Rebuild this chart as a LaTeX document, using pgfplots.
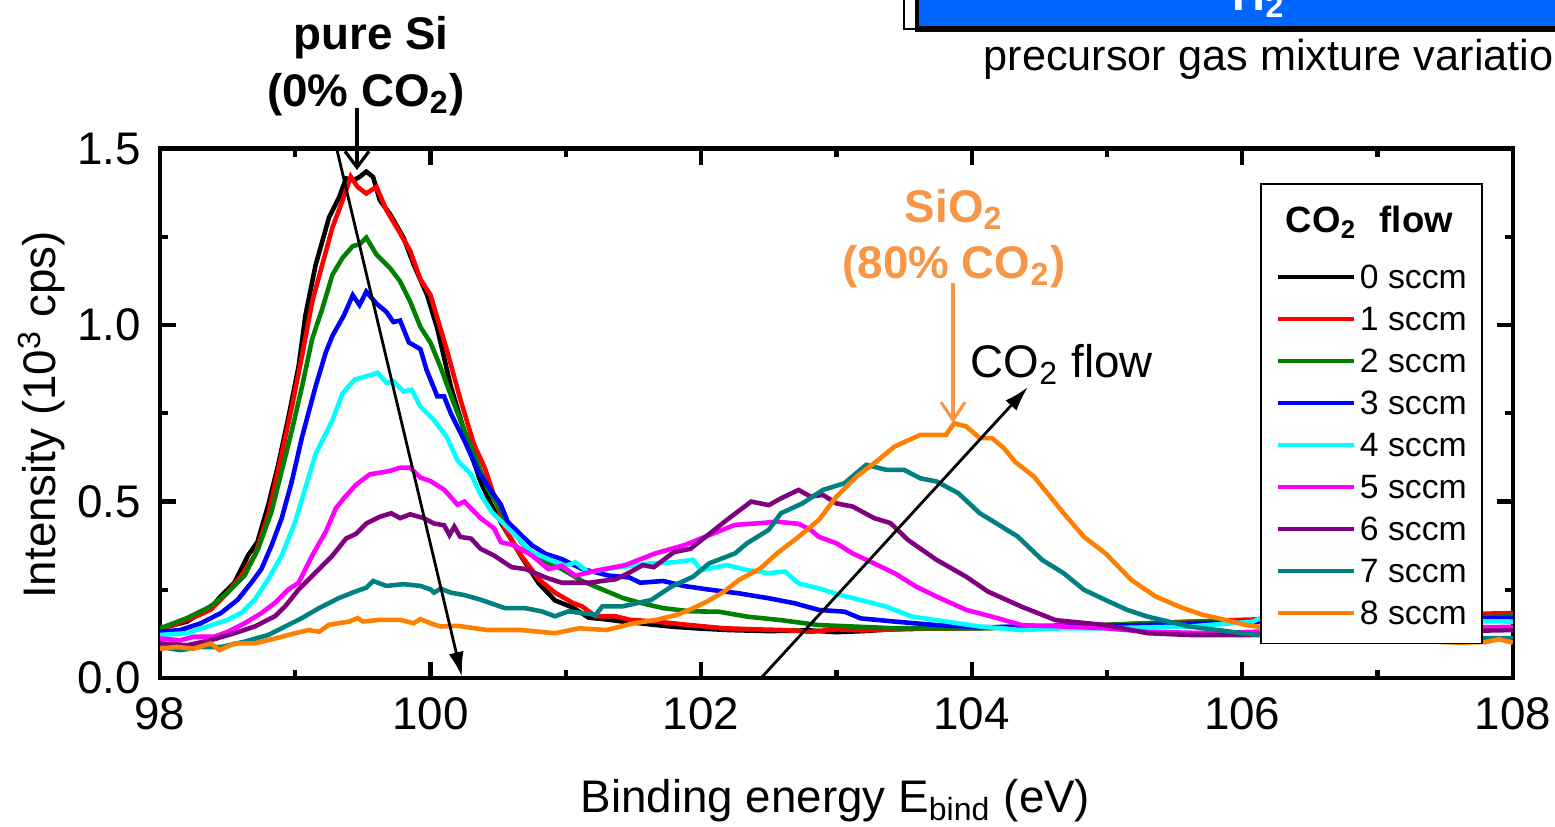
\documentclass[border=0pt]{standalone}
\usepackage{fontspec}
\setmainfont{Liberation Sans}
\usepackage{pgfplots}
\pgfplotsset{compat=1.18}
\usetikzlibrary{arrows.meta}
\definecolor{cgreen}{RGB}{0,128,0}
\definecolor{cblue}{RGB}{0,0,255}
\definecolor{ccyan}{RGB}{0,255,255}
\definecolor{cmag}{RGB}{255,0,255}
\definecolor{cpurple}{RGB}{128,0,128}
\definecolor{cteal}{RGB}{0,128,128}
\definecolor{corange}{RGB}{255,128,0}
\definecolor{annot}{RGB}{247,150,70}
\definecolor{barblue}{RGB}{0,102,255}
\newcommand{\ls}{\rule[-0.07cm]{0pt}{0.37cm}}
\newcommand{\bigf}{\fontsize{13}{15}\selectfont}
\begin{document}
\begin{tikzpicture}
\begin{axis}[
  name=ax, at={(0,0)}, anchor=south west,
  scale only axis, width=13.52cm, height=5.29cm,
  xmin=98, xmax=108, ymin=0, ymax=1.5,
  xtick={98,100,...,108}, ytick={0,0.5,1,1.5},
  minor x tick num=1, minor y tick num=1,
  tick align=inside,
  major tick length=0.16cm, minor tick length=0.08cm,
  every tick/.style={black, line width=1.2pt},
  axis line style={line width=1.3pt},
  /pgf/number format/assume math mode=true,
  tick label style={font=\bigf},
  xticklabel style={yshift=-0.07cm},
  yticklabel style={xshift=-0.07cm,/pgf/number format/.cd,fixed,fixed zerofill,precision=1},
  label style={font=\bigf},
  xlabel={Binding energy E\textsubscript{bind} (eV)},
  ylabel={Intensity (10\textsuperscript{3} cps)},
  xlabel style={at={(axis description cs:0.4993,-0.2533)}, anchor=base},
  ylabel style={at={(axis description cs:-0.0873,0.497)}, anchor=center},
  every axis plot/.append style={line width=1.3pt},
  legend image code/.code={\draw[#1,line width=1.2pt] (0cm,0cm) -- (0.76cm,0cm);},
  legend cell align=left,
  legend style={at={(rel axis cs:0.9778,0.9357)}, anchor=north east,
    draw=black, line width=0.5pt, fill=white,
    font=\fontsize{9.6}{10.5}\selectfont,
    inner xsep=0.15cm, inner ysep=0.12cm,
    row sep=0.05cm, column sep=0.04cm,
    nodes={inner sep=0pt, text depth=}},
]
\addlegendimage{empty legend}
\addlegendentry{\hspace*{-0.74cm}\fontsize{10.4}{12}\selectfont\bfseries\rule[-0.205cm]{0pt}{0.575cm}CO\textsubscript{2}\hspace{0.35em} flow}

\addplot[black] coordinates {(98.0,0.141)(98.1,0.15)(98.2,0.16)(98.3,0.184)(98.4,0.21)(98.45,0.232)(98.55,0.27)(98.65,0.347)(98.72,0.385)(98.8,0.49)(98.875,0.606)(98.95,0.74)(99.025,0.884)(99.075,1.028)(99.15,1.17)(99.25,1.306)(99.325,1.363)(99.375,1.416)(99.43,1.41)(99.475,1.42)(99.525,1.435)(99.575,1.42)(99.625,1.354)(99.7,1.315)(99.8,1.248)(99.875,1.172)(99.975,1.085)(100.05,0.99)(100.15,0.826)(100.3,0.635)(100.37,0.556)(100.45,0.49)(100.52,0.441)(100.6,0.39)(100.67,0.345)(100.8,0.268)(100.92,0.22)(101.05,0.2)(101.17,0.171)(101.3,0.166)(101.42,0.16)(101.55,0.155)(101.67,0.15)(101.8,0.145)(102.0,0.14)(102.2,0.136)(102.5,0.133)(102.8,0.135)(103.0,0.13)(103.2,0.133)(103.4,0.138)(103.6,0.14)(103.8,0.14)(104.0,0.142)(104.3,0.145)(104.6,0.148)(105.0,0.15)(105.5,0.158)(106.0,0.162)(106.5,0.165)(107.0,0.168)(107.5,0.17)(108.0,0.172)};
\addlegendentry{\ls 0 sccm}

\addplot[red] coordinates {(98.0,0.136)(98.1,0.15)(98.2,0.165)(98.3,0.18)(98.375,0.194)(98.5,0.242)(98.6,0.29)(98.7,0.347)(98.8,0.462)(98.9,0.635)(98.975,0.769)(99.05,0.913)(99.125,1.066)(99.2,1.172)(99.275,1.277)(99.35,1.354)(99.41,1.421)(99.46,1.392)(99.525,1.373)(99.6,1.392)(99.675,1.325)(99.75,1.277)(99.85,1.21)(99.925,1.13)(100.0,1.085)(100.12,0.93)(100.22,0.79)(100.32,0.663)(100.4,0.596)(100.45,0.539)(100.55,0.424)(100.67,0.347)(100.8,0.28)(100.92,0.242)(101.05,0.213)(101.12,0.203)(101.22,0.175)(101.37,0.175)(101.47,0.165)(101.67,0.16)(101.92,0.15)(102.17,0.141)(102.4,0.138)(102.6,0.136)(102.81,0.131)(103.0,0.138)(103.2,0.135)(103.43,0.138)(103.7,0.14)(104.06,0.141)(104.5,0.145)(104.99,0.15)(105.5,0.158)(106.0,0.165)(106.5,0.17)(107.0,0.175)(107.5,0.18)(108.0,0.184)};
\addlegendentry{\ls 1 sccm}

\addplot[cgreen] coordinates {(98.0,0.141)(98.1,0.155)(98.2,0.17)(98.375,0.203)(98.5,0.242)(98.625,0.29)(98.725,0.366)(98.825,0.472)(98.9,0.587)(98.975,0.702)(99.05,0.826)(99.125,0.961)(99.2,1.047)(99.275,1.143)(99.35,1.191)(99.425,1.224)(99.475,1.229)(99.525,1.248)(99.6,1.2)(99.7,1.162)(99.775,1.124)(99.85,1.066)(99.925,0.995)(100.0,0.95)(100.075,0.88)(100.17,0.78)(100.3,0.654)(100.42,0.539)(100.55,0.453)(100.67,0.385)(100.8,0.337)(100.97,0.309)(101.12,0.275)(101.27,0.251)(101.42,0.227)(101.55,0.213)(101.72,0.198)(101.92,0.189)(102.13,0.188)(102.34,0.174)(102.59,0.164)(102.87,0.15)(103.12,0.146)(103.43,0.141)(104.06,0.141)(104.68,0.146)(105.3,0.155)(106.08,0.16)(106.8,0.165)(107.5,0.17)(108.0,0.175)};
\addlegendentry{\ls 2 sccm}

\addplot[cblue] coordinates {(98.0,0.131)(98.15,0.136)(98.3,0.155)(98.45,0.184)(98.575,0.222)(98.675,0.27)(98.75,0.309)(98.825,0.376)(98.9,0.453)(98.975,0.558)(99.05,0.683)(99.15,0.826)(99.225,0.922)(99.275,0.97)(99.36,1.028)(99.425,1.085)(99.475,1.057)(99.525,1.095)(99.6,1.061)(99.675,1.037)(99.725,1.009)(99.775,1.013)(99.84,0.951)(99.925,0.932)(99.97,0.874)(100.05,0.798)(100.1,0.798)(100.15,0.75)(100.25,0.673)(100.35,0.587)(100.45,0.529)(100.52,0.491)(100.57,0.443)(100.67,0.405)(100.75,0.376)(100.85,0.352)(100.97,0.337)(101.12,0.309)(101.32,0.29)(101.47,0.285)(101.55,0.27)(101.72,0.275)(101.87,0.261)(102.05,0.251)(102.28,0.24)(102.5,0.226)(102.69,0.212)(102.87,0.193)(103.06,0.188)(103.18,0.169)(103.43,0.16)(103.74,0.15)(104.06,0.144)(104.68,0.146)(105.3,0.15)(106.08,0.16)(106.8,0.165)(107.5,0.168)(108.0,0.17)};
\addlegendentry{\ls 3 sccm}

\addplot[ccyan] coordinates {(98.0,0.122)(98.2,0.127)(98.35,0.146)(98.5,0.165)(98.6,0.184)(98.7,0.222)(98.8,0.28)(98.9,0.347)(99.0,0.443)(99.075,0.539)(99.15,0.635)(99.225,0.692)(99.275,0.731)(99.35,0.807)(99.44,0.846)(99.525,0.855)(99.61,0.865)(99.675,0.836)(99.725,0.841)(99.8,0.812)(99.86,0.817)(99.925,0.769)(100.025,0.731)(100.12,0.683)(100.2,0.616)(100.3,0.577)(100.37,0.52)(100.45,0.472)(100.55,0.433)(100.65,0.395)(100.75,0.357)(100.87,0.337)(101.0,0.318)(101.07,0.328)(101.17,0.299)(101.3,0.309)(101.44,0.316)(101.63,0.325)(101.8,0.328)(101.94,0.335)(102.0,0.306)(102.19,0.32)(102.34,0.306)(102.5,0.297)(102.62,0.302)(102.72,0.268)(102.87,0.254)(103.03,0.235)(103.18,0.221)(103.37,0.202)(103.56,0.174)(103.74,0.164)(104.06,0.146)(104.37,0.136)(104.68,0.141)(104.99,0.141)(105.61,0.146)(106.08,0.16)(106.25,0.19)(106.4,0.16)(107.0,0.16)(107.5,0.162)(108.0,0.16)};
\addlegendentry{\ls 4 sccm}

\addplot[cmag] coordinates {(98.0,0.112)(98.15,0.107)(98.25,0.117)(98.4,0.117)(98.5,0.131)(98.625,0.155)(98.75,0.184)(98.85,0.213)(98.95,0.251)(99.025,0.27)(99.125,0.347)(99.225,0.414)(99.3,0.481)(99.36,0.51)(99.45,0.548)(99.55,0.577)(99.7,0.587)(99.775,0.596)(99.85,0.596)(99.925,0.568)(100.0,0.558)(100.1,0.534)(100.2,0.491)(100.25,0.5)(100.37,0.453)(100.47,0.424)(100.52,0.385)(100.62,0.376)(100.75,0.347)(100.87,0.309)(100.97,0.318)(101.07,0.29)(101.22,0.304)(101.44,0.32)(101.66,0.353)(101.88,0.377)(102.06,0.405)(102.25,0.434)(102.44,0.439)(102.56,0.443)(102.72,0.437)(102.81,0.42)(102.87,0.4)(103.0,0.382)(103.12,0.353)(103.25,0.33)(103.43,0.297)(103.59,0.259)(103.74,0.231)(103.96,0.193)(104.15,0.174)(104.37,0.15)(104.68,0.146)(104.99,0.141)(105.3,0.131)(105.77,0.127)(106.08,0.131)(107.0,0.14)(107.6,0.143)(108.0,0.145)};
\addlegendentry{\ls 5 sccm}

\addplot[cpurple] coordinates {(98.0,0.098)(98.2,0.093)(98.375,0.107)(98.55,0.127)(98.7,0.146)(98.85,0.175)(98.925,0.203)(99.025,0.251)(99.15,0.299)(99.275,0.347)(99.375,0.395)(99.45,0.409)(99.525,0.438)(99.625,0.457)(99.71,0.467)(99.775,0.453)(99.85,0.464)(99.95,0.453)(100.025,0.438)(100.1,0.433)(100.14,0.405)(100.175,0.429)(100.22,0.4)(100.3,0.395)(100.37,0.366)(100.47,0.347)(100.6,0.314)(100.7,0.309)(100.85,0.285)(100.97,0.27)(101.17,0.27)(101.37,0.28)(101.47,0.299)(101.57,0.32)(101.65,0.314)(101.8,0.357)(101.92,0.366)(102.05,0.405)(102.19,0.448)(102.37,0.5)(102.5,0.49)(102.59,0.509)(102.72,0.533)(102.81,0.514)(102.9,0.519)(103.0,0.495)(103.12,0.486)(103.28,0.453)(103.4,0.439)(103.53,0.391)(103.74,0.335)(103.96,0.287)(104.12,0.245)(104.37,0.202)(104.62,0.164)(104.99,0.15)(105.3,0.127)(105.61,0.122)(106.08,0.122)(107.0,0.13)(107.6,0.133)(108.0,0.136)};
\addlegendentry{\ls 6 sccm}

\addplot[cteal] coordinates {(98.0,0.088)(98.15,0.079)(98.3,0.088)(98.45,0.088)(98.625,0.103)(98.8,0.122)(98.925,0.146)(99.05,0.17)(99.175,0.198)(99.325,0.227)(99.45,0.246)(99.525,0.256)(99.575,0.275)(99.675,0.261)(99.8,0.266)(99.925,0.261)(100.0,0.251)(100.025,0.242)(100.075,0.253)(100.15,0.242)(100.25,0.235)(100.37,0.222)(100.55,0.198)(100.7,0.198)(100.82,0.189)(100.92,0.175)(101.02,0.189)(101.22,0.179)(101.27,0.203)(101.42,0.203)(101.63,0.221)(101.78,0.259)(101.94,0.287)(102.06,0.325)(102.25,0.353)(102.34,0.382)(102.5,0.42)(102.59,0.467)(102.75,0.495)(102.9,0.533)(103.06,0.552)(103.22,0.604)(103.37,0.59)(103.5,0.59)(103.62,0.566)(103.74,0.557)(103.9,0.524)(104.06,0.467)(104.18,0.439)(104.34,0.401)(104.52,0.335)(104.68,0.297)(104.83,0.25)(104.99,0.221)(105.15,0.193)(105.3,0.174)(105.61,0.146)(105.92,0.131)(106.11,0.122)(107.0,0.115)(107.6,0.113)(108.0,0.113)};
\addlegendentry{\ls 7 sccm}

\addplot[corange] coordinates {(98.0,0.083)(98.125,0.088)(98.25,0.083)(98.375,0.098)(98.44,0.079)(98.55,0.098)(98.7,0.098)(98.85,0.112)(99.0,0.127)(99.1,0.136)(99.175,0.131)(99.25,0.151)(99.4,0.16)(99.46,0.17)(99.5,0.16)(99.625,0.165)(99.775,0.165)(99.875,0.155)(99.925,0.167)(100.0,0.155)(100.075,0.146)(100.2,0.148)(100.42,0.136)(100.67,0.136)(100.92,0.127)(101.1,0.141)(101.3,0.136)(101.5,0.155)(101.67,0.165)(101.82,0.179)(101.92,0.194)(102.05,0.218)(102.17,0.245)(102.28,0.278)(102.44,0.311)(102.56,0.353)(102.72,0.4)(102.87,0.448)(103.0,0.514)(103.15,0.571)(103.31,0.618)(103.43,0.656)(103.62,0.689)(103.81,0.689)(103.87,0.722)(103.96,0.713)(104.06,0.68)(104.15,0.68)(104.24,0.651)(104.32,0.613)(104.46,0.571)(104.68,0.467)(104.83,0.4)(104.99,0.353)(105.18,0.278)(105.36,0.231)(105.55,0.2)(105.7,0.18)(105.87,0.165)(106.03,0.15)(106.23,0.14)(106.8,0.12)(107.3,0.105)(107.6,0.1)(107.8,0.102)(107.9,0.11)(108.0,0.1)};
\addlegendentry{\ls 8 sccm}
\end{axis}
\pgfresetboundingbox
\begin{scope}[x=0.01cm,y=-0.01cm,shift={(-160,-678)}]
\path[use as bounding box] (0,0) rectangle (1555,826);
% inset bar (cropped at the top and right, as in the reference)
\draw[black, line width=0.6pt, fill=white] (904,-10) rectangle (918,29);
\fill[black] (915,-10) rectangle (1570,32);
\fill[barblue] (919,-10) rectangle (1570,26);
\node[anchor=base west, text=white, font=\bigf\bfseries, inner sep=0pt] at (1232,10) {H\textsubscript{2}};
\node[anchor=base west, font=\fontsize{12.3}{14}\selectfont, inner sep=0pt] at (983,70) {precursor gas mixture variation};
% pure Si annotation
\node[anchor=base, font=\bigf\bfseries, inner sep=0pt] at (371,49) {pure Si};
\node[anchor=base, font=\bigf\bfseries, inner sep=0pt] at (366,106) {(0\% CO\textsubscript{2})};
\draw[line width=0.9pt, -{Straight Barb[length=1.6mm,width=2.4mm]}] (357,108) -- (357,170);
\draw[line width=0.8pt, -{Latex[length=2.5mm,width=1.5mm]}] (337,150) -- (462,677);
\draw[line width=0.8pt, -{Latex[length=2.5mm,width=1.5mm]}] (762,677) -- (1028,387);
% SiO2 annotation
\node[anchor=base, text=annot, font=\bigf\bfseries, inner sep=0pt] at (954,222) {SiO\textsubscript{2}};
\node[anchor=base, text=annot, font=\bigf\bfseries, inner sep=0pt] at (954,278) {(80\% CO\textsubscript{2})};
\draw[annot, line width=0.9pt, -{Straight Barb[length=1.8mm,width=2.4mm]}] (953,283) -- (953,423);
\node[anchor=base west, font=\bigf, inner sep=0pt] at (970,377) {CO\textsubscript{2} flow};
\end{scope}
\end{tikzpicture}
\end{document}
